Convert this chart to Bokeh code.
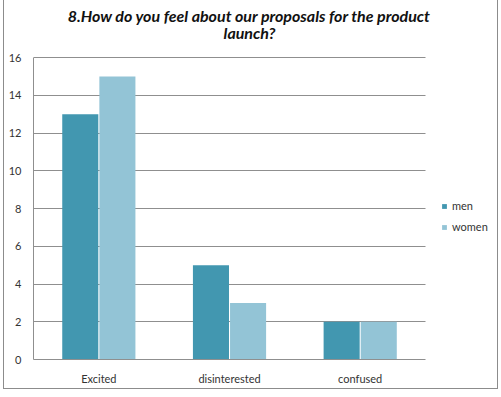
from bokeh.plotting import figure
from bokeh.models import (Range1d, Legend, LegendItem, Label, ColumnDataSource, FixedTicker)
from bokeh.embed import file_html
from bokeh.resources import INLINE

categories = ["Excited", "disinterested", "confused"]
men = [13, 5, 2]
women = [15, 3, 2]
series_names = ["men", "women"]
y_ticks = [0, 2, 4, 6, 8, 10, 12, 14, 16]
title_lines = ["8.How do you feel about our proposals for the product", "launch?"]

MEN_COLOR = "#4297b0"
WOMEN_COLOR = "#93c4d6"
GRID = "#8f8f8f"
FONT = "Lato"

# category slots 0..3 hold the bars; the rest of the x range leaves room for the legend
cat_pos = [i + 0.5 for i in range(len(categories))]
src = ColumnDataSource(dict(
    cat=categories, men=men, women=women,
    x_men=[c - 0.142 for c in cat_pos], x_women=[c + 0.142 for c in cat_pos],
))

p = figure(
    x_range=Range1d(0, 3.566),
    y_range=Range1d(0, 19.02),
    width=495, height=389,
    output_backend="svg", toolbar_location=None,
    min_border_left=29, min_border_right=0, min_border_top=0, min_border_bottom=30,
    styles={"margin-left": "3px",
            "border-left": "1px solid #8c8c8c", "border-right": "1px solid #8c8c8c",
            "border-bottom": "1px solid #8c8c8c"},
)
p.outline_line_color = None
p.background_fill_color = "white"
p.border_fill_color = "white"

r_men = p.vbar(x="x_men", top="men", width=0.276, source=src,
               fill_color=MEN_COLOR, line_color=None)
r_women = p.vbar(x="x_women", top="women", width=0.276, source=src,
                 fill_color=WOMEN_COLOR, line_color=None)

p.xgrid.visible = False
p.ygrid.ticker = FixedTicker(ticks=y_ticks)
p.ygrid.grid_line_color = GRID
p.ygrid.grid_line_width = 1
try:
    p.ygrid[0].cross_bounds = (0, len(categories))
except Exception:
    pass

p.yaxis.ticker = FixedTicker(ticks=y_ticks)
p.yaxis.bounds = (0, 16)
p.yaxis.axis_line_color = GRID
p.yaxis.major_tick_line_color = None
p.yaxis.minor_tick_line_color = None
p.yaxis.major_tick_out = 0
p.yaxis.minor_tick_out = 0
p.yaxis.major_label_standoff = 12
p.yaxis.major_label_text_font = FONT
p.yaxis.major_label_text_font_size = "11px"
p.yaxis.major_label_text_color = "#333333"

p.xaxis.ticker = FixedTicker(ticks=cat_pos)
p.xaxis.major_label_overrides = {pos: name for pos, name in zip(cat_pos, categories)}
p.xaxis.bounds = (0, len(categories))
p.xaxis.axis_line_color = GRID
p.xaxis.major_tick_line_color = None
p.xaxis.minor_tick_line_color = None
p.xaxis.major_tick_out = 0
p.xaxis.minor_tick_out = 0
p.xaxis.major_label_standoff = 12
p.xaxis.major_label_text_font = FONT
p.xaxis.major_label_text_font_size = "11px"
p.xaxis.major_label_text_color = "#333333"

legend = Legend(
    items=[LegendItem(label=series_names[0], renderers=[r_men]),
           LegendItem(label=series_names[1], renderers=[r_women])],
    location=(408, 126),
    glyph_width=6, glyph_height=6, label_height=12, label_standoff=5, spacing=8,
    padding=0, margin=0, border_line_color=None, background_fill_alpha=0,
    label_text_font=FONT, label_text_font_size="11px", label_text_color="#333333",
)
p.add_layout(legend, "center")

p.add_layout(Label(x=216, y=344, x_units="screen", y_units="screen", text=title_lines[0],
                   text_align="center", text_baseline="middle", text_font=FONT,
                   text_font_style="bold italic", text_font_size="16px", text_color="#111111"))
p.add_layout(Label(x=216, y=327, x_units="screen", y_units="screen", text=title_lines[1],
                   text_align="center", text_baseline="middle", text_font=FONT,
                   text_font_style="bold italic", text_font_size="16px", text_color="#111111"))

open("out.html", "w").write(file_html(p, INLINE))
